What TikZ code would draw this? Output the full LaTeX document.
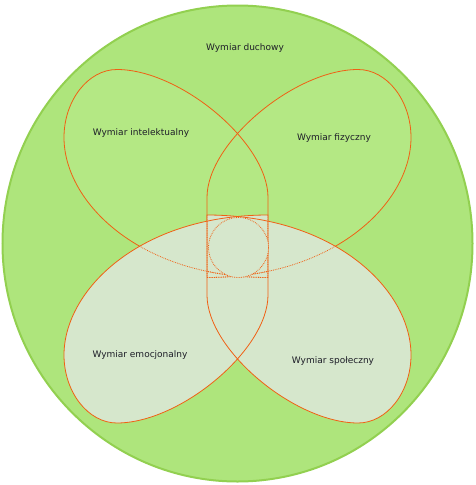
\documentclass[tikz,border=0pt]{standalone}
\usepackage{fontspec}
\setmainfont{DejaVu Sans}
\usepackage{tikz}
\usetikzlibrary{positioning}
\definecolor{meadow}{RGB}{174,229,124}
\definecolor{leaf}{RGB}{180,232,132}
\definecolor{mist}{RGB}{214,231,204}
\definecolor{rim}{RGB}{146,208,80}
\definecolor{ember}{RGB}{240,96,20}
\definecolor{ink}{RGB}{30,30,40}
% one teardrop, point towards the middle (lower left one)
\newcommand\droppath[1]{\path[#1] (268,215) .. controls (140,215) and (64,290) .. (64,355)
  .. controls (64,392) and (88,423) .. (117,423)
  .. controls (180,423) and (268,350) .. (268,295) -- cycle;}
% the two upper teardrops
\newcommand\toppair[1]{\begin{scope}[flipy]
    \droppath{#1}
    \begin{scope}[flipx]
      \droppath{#1}
    \end{scope}
  \end{scope}}

\begin{document}
\begin{tikzpicture}[x=1pt, y=-1pt, every node/.style={font=\fontsize{9}{11}\selectfont, text=ink}, upper/.style={fill=leaf}, lower/.style={fill=mist}, edge/.style={draw=ember, line width=0.8pt}, faint/.style={draw=ember, line width=0.8pt, densely dotted}, flipx/.style={shift={(475,0)}, xscale=-1}, flipy/.style={shift={(0,492.5)}, yscale=-1}]
\useasboundingbox (0,0) rectangle (475,485);
% duchowy
\filldraw[fill=meadow, draw=rim, line width=2pt] (237.5,243.5) ellipse[x radius=235pt, y radius=238pt];
% intelektualny, fizyczny
\toppair{upper}
\toppair{edge}
% emocjonalny, spoleczny
\droppath{lower}
\begin{scope}[flipx]
  \droppath{lower}
\end{scope}
% upper edges seen through the lower fills
\begin{scope}
  \droppath{clip}
  \toppair{faint}
\end{scope}
\begin{scope}[flipx]
  \droppath{clip}
  \toppair{faint}
\end{scope}
\droppath{edge}
\begin{scope}[flipx]
  \droppath{edge}
\end{scope}
% middle
\filldraw[lower, faint] (238.5,247.5) circle[radius=30pt];
% labels
\node (duch) at (245,48) {Wymiar duchowy};
\node (intel) at (141,133) {Wymiar intelektualny};
\node (fiz) at (334,138) {Wymiar fizyczny};
\node (emo) at (140,355) {Wymiar emocjonalny};
\node (spol) at (333,361) {Wymiar społeczny};
\end{tikzpicture}
\end{document}
